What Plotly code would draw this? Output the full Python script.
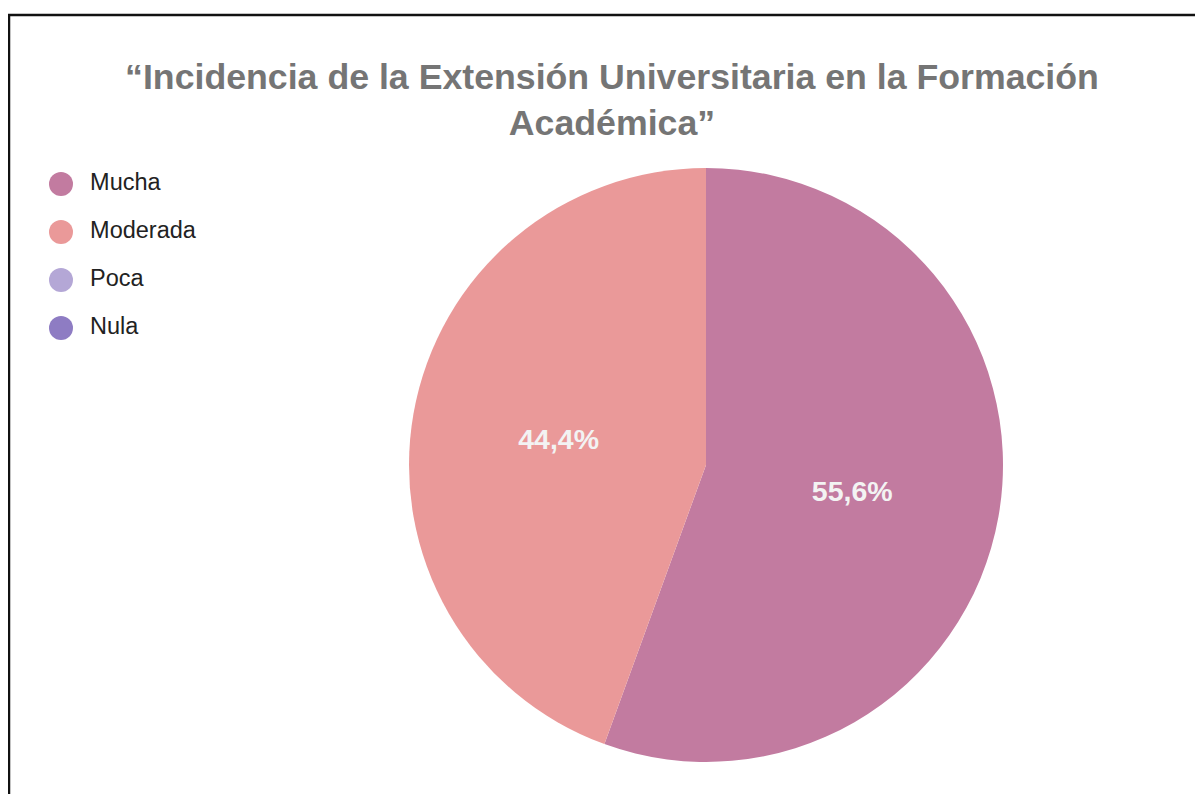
import plotly.graph_objects as go

# data
categorias = ['Mucha', 'Moderada', 'Poca', 'Nula']
respuestas = [5, 4, 0, 0]
colores = ['#C27BA0', '#EA9999', '#B4A7D6', '#8E7CC3']

titulo = '“Incidencia de la Extensión Universitaria en la Formación<br>Académica”'

# the page puts the plot 8px in from the top-left corner
off = 8

fig = go.Figure()

fig.add_trace(go.Pie(
    labels=categorias,
    values=respuestas,
    sort=False,
    direction='clockwise',
    rotation=0,
    marker=dict(colors=colores, line=dict(width=0)),
    texttemplate='%{percent:.1%}',
    textposition=['inside' if v > 0 else 'none' for v in respuestas],
    insidetextorientation='horizontal',
    textfont=dict(family='Liberation Sans', size=28.5, color='#f3f3f3', weight='bold'),
    domain=dict(x=[(409 - off) / 1203, (1003 - off) / 1203],
                y=[1 - (762 - off) / 794, 1 - (168 - off) / 794]),
    showlegend=False,
    hoverinfo='label+percent',
))

# legend drawn as a small scatter on its own hidden axes
fig.add_trace(go.Scatter(
    x=[0] * len(categorias),
    y=categorias,
    mode='markers+text',
    text=['  ' + c for c in categorias],
    textposition='middle right',
    textfont=dict(family='Liberation Sans', size=23.5, color='#222222'),
    marker=dict(size=24, color=colores),
    showlegend=False,
    hoverinfo='skip',
    cliponaxis=False,
))

fig.update_layout(
    width=1203,
    height=794,
    margin=dict(l=0, r=0, t=0, b=0),
    paper_bgcolor='white',
    plot_bgcolor='white',
    separators=',.',
    title=dict(
        text=titulo,
        x=(612 - off) / 1203,
        xanchor='center',
        y=1 - 81 / 794,
        yanchor='top',
        font=dict(family='Liberation Sans', size=35.7, color='#757575', weight='bold'),
    ),
    xaxis=dict(domain=[0, 0.25], range=[-(61 - off), 300.75 - (61 - off)],
               visible=False, fixedrange=True),
    yaxis=dict(domain=[1 - (352 - off) / 794, 1 - (160 - off) / 794], type='category',
               range=[3.5, -0.5], visible=False, fixedrange=True),
    shapes=[dict(
        type='rect', xref='paper', yref='paper',
        x0=(9 - off) / 1203, x1=1.1, y0=-0.1, y1=1 - (15 - off) / 794,
        line=dict(color='#111111', width=2.5),
    )],
)

fig.write_html('out.html')
